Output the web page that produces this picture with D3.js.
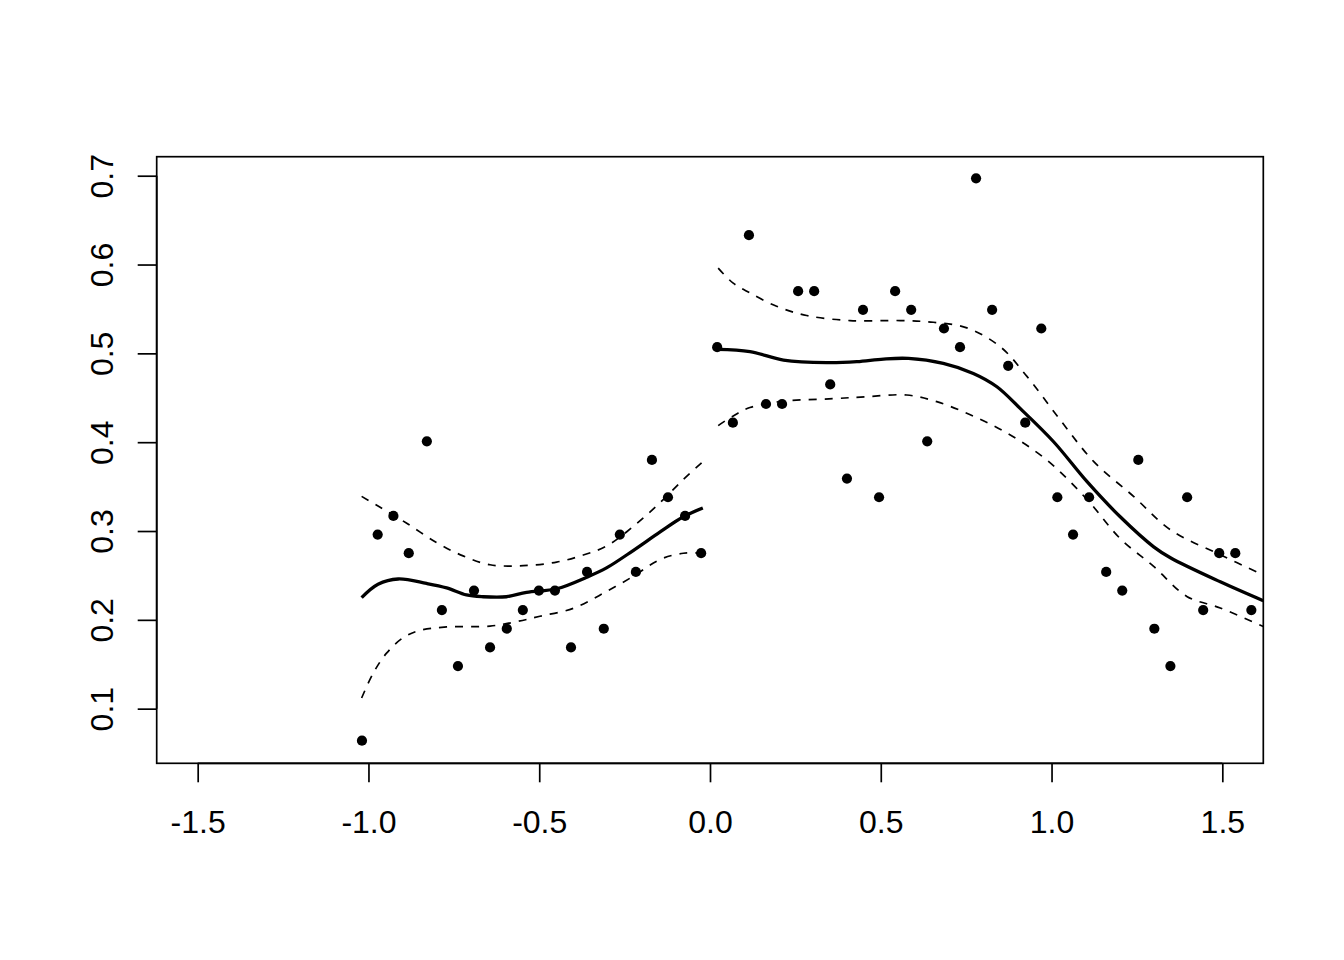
<!DOCTYPE html>
<html>
<head>
<meta charset="utf-8">
<script src="https://cdn.jsdelivr.net/npm/d3@7"></script>
<style>
  html, body { margin: 0; padding: 0; background: #fff; }
  svg { display: block; }
  text { font-family: "Liberation Sans", Arial, sans-serif; font-size: 32px; fill: #000; }
</style>
</head>
<body>
<svg id="chart" width="1344" height="960"></svg>
<script>
// ---------- data ----------
const xTicks = [-1.5, -1.0, -0.5, 0.0, 0.5, 1.0, 1.5];
const yTicks = [0.1, 0.2, 0.3, 0.4, 0.5, 0.6, 0.7];

const pointX = [
  -1.019, -0.973, -0.927, -0.882, -0.829, -0.785, -0.738, -0.691, -0.644, -0.595, -0.548,
  -0.501, -0.454, -0.407, -0.360, -0.311, -0.264, -0.217, -0.170, -0.123, -0.073, -0.026,
  0.021, 0.067, 0.114, 0.164, 0.211, 0.258, 0.305, 0.352, 0.401, 0.448, 0.495,
  0.542, 0.589, 0.636, 0.685, 0.732, 0.779, 0.826, 0.873, 0.923, 0.970, 1.017,
  1.063, 1.110, 1.160, 1.207, 1.254, 1.301, 1.348, 1.397, 1.444, 1.491, 1.538, 1.585
];
const pointY = [
  0.064, 0.296, 0.317, 0.275, 0.401, 0.211, 0.148, 0.233, 0.169, 0.190, 0.211,
  0.233, 0.233, 0.169, 0.254, 0.190, 0.296, 0.254, 0.380, 0.338, 0.317, 0.275,
  0.507, 0.422, 0.633, 0.443, 0.443, 0.570, 0.570, 0.465, 0.359, 0.549, 0.338,
  0.570, 0.549, 0.401, 0.528, 0.507, 0.697, 0.549, 0.486, 0.422, 0.528, 0.338,
  0.296, 0.338, 0.254, 0.233, 0.380, 0.190, 0.148, 0.338, 0.211, 0.275, 0.275, 0.211
];

// fitted curve and confidence bands, left of cutoff
const leftFit = [[-1.020,0.225],[-0.972,0.240],[-0.913,0.246],[-0.830,0.241],[-0.771,0.236],[-0.713,0.228],
  [-0.664,0.226],[-0.596,0.226],[-0.537,0.231],[-0.449,0.235],[-0.361,0.248],[-0.303,0.2585],
  [-0.225,0.278],[-0.146,0.299],[-0.078,0.316],[-0.021,0.326]];
const leftUpper = [[-1.020,0.339],[-0.967,0.327],[-0.889,0.309],[-0.801,0.287],[-0.723,0.272],[-0.644,0.262],
  [-0.547,0.261],[-0.449,0.265],[-0.371,0.273],[-0.303,0.283],[-0.225,0.305],[-0.146,0.332],
  [-0.078,0.358],[-0.024,0.377]];
const leftLower = [[-1.020,0.112],[-0.986,0.140],[-0.947,0.1625],[-0.898,0.180],[-0.850,0.188],[-0.771,0.192],
  [-0.644,0.193],[-0.566,0.198],[-0.498,0.204],[-0.400,0.213],[-0.312,0.230],[-0.225,0.249],
  [-0.146,0.268],[-0.078,0.275],[-0.024,0.275]];

// fitted curve and confidence bands, right of cutoff
const rightFit = [[0.021,0.5045],[0.117,0.502],[0.215,0.4925],[0.342,0.4895],[0.430,0.4906],[0.508,0.4936],
  [0.581,0.4943],[0.683,0.4887],[0.771,0.4774],[0.840,0.4624],[0.908,0.438],[1.006,0.4005],
  [1.104,0.3555],[1.201,0.316],[1.299,0.2822],[1.348,0.2699],[1.494,0.2428],[1.620,0.2215]];
const rightUpper = [[0.024,0.596],[0.068,0.579],[0.117,0.568],[0.195,0.553],[0.283,0.5426],[0.410,0.5369],
  [0.557,0.5369],[0.654,0.535],[0.752,0.5287],[0.850,0.5074],[0.928,0.4741],[1.025,0.4253],
  [1.123,0.3784],[1.240,0.339],[1.348,0.3014],[1.494,0.2733],[1.620,0.2505]];
const rightLower = [[0.024,0.4187],[0.068,0.4296],[0.117,0.439],[0.215,0.4462],[0.361,0.449],[0.459,0.4512],
  [0.576,0.4531],[0.664,0.4456],[0.762,0.4309],[0.869,0.4104],[0.986,0.380],[1.104,0.3355],
  [1.201,0.2915],[1.299,0.2602],[1.396,0.2264],[1.494,0.2134],[1.620,0.1925]];

// ---------- drawing ----------
const svg = d3.select("#chart");
svg.append("rect").attr("width", 1344).attr("height", 960).attr("fill", "#fff");

const pLeft = 156.7, pRight = 1263.3, pTop = 156.7, pBottom = 763.3;
const x = d3.scaleLinear().domain([-1.62, 1.62]).range([pLeft, pRight]);
const y = d3.scaleLinear().domain([0.0385, 0.7214]).range([pBottom, pTop]);

svg.append("clipPath").attr("id", "plotclip")
  .append("rect").attr("x", pLeft).attr("y", pTop)
  .attr("width", pRight - pLeft).attr("height", pBottom - pTop);

const plot = svg.append("g").attr("clip-path", "url(#plotclip)");

const line = d3.line().x(d => x(d[0])).y(d => y(d[1])).curve(d3.curveCatmullRom.alpha(0.5));

const solid = [leftFit, rightFit];
const dashed = [leftUpper, leftLower, rightUpper, rightLower];

plot.selectAll("path.band").data(dashed).enter().append("path")
  .attr("class", "band")
  .attr("d", line)
  .attr("fill", "none").attr("stroke", "#000")
  .attr("stroke-width", 1.7).attr("stroke-dasharray", "8,8");

plot.selectAll("path.fit").data(solid).enter().append("path")
  .attr("class", "fit")
  .attr("d", line)
  .attr("fill", "none").attr("stroke", "#000")
  .attr("stroke-width", 3.3).attr("stroke-linejoin", "round");

plot.selectAll("circle").data(pointX.map((v, i) => [v, pointY[i]])).enter().append("circle")
  .attr("cx", d => x(d[0])).attr("cy", d => y(d[1]))
  .attr("r", 5.1).attr("fill", "#000");

// box
svg.append("rect").attr("x", pLeft).attr("y", pTop)
  .attr("width", pRight - pLeft).attr("height", pBottom - pTop)
  .attr("fill", "none").attr("stroke", "#000").attr("stroke-width", 1.7);

// x axis
const xAxis = d3.axisBottom(x).tickValues(xTicks).tickSize(19).tickPadding(0)
  .tickFormat(d => d3.format(".1f")(d).replace("\u2212", "-"));
const gx = svg.append("g").attr("transform", `translate(0,${pBottom})`).call(xAxis);
gx.select(".domain").remove();
gx.append("line").attr("x1", x(xTicks[0])).attr("x2", x(xTicks[xTicks.length - 1]))
  .attr("y1", 0).attr("y2", 0).attr("stroke", "#000").attr("stroke-width", 1.7);
gx.selectAll(".tick line").attr("stroke", "#000").attr("stroke-width", 1.7);
gx.selectAll(".tick text")
  .attr("y", 69.4).attr("dy", null)
  .attr("font-family", "Liberation Sans, Arial, sans-serif")
  .attr("font-size", 32).attr("fill", "#000");

// y axis
const yAxis = d3.axisLeft(y).tickValues(yTicks).tickSize(19).tickFormat(d3.format(".1f"));
const gy = svg.append("g").attr("transform", `translate(${pLeft},0)`).call(yAxis);
gy.select(".domain").remove();
gy.append("line").attr("y1", y(yTicks[0])).attr("y2", y(yTicks[yTicks.length - 1]))
  .attr("x1", 0).attr("x2", 0).attr("stroke", "#000").attr("stroke-width", 1.7);
gy.selectAll(".tick line").attr("stroke", "#000").attr("stroke-width", 1.7);
gy.selectAll(".tick text")
  .attr("x", null).attr("dy", null)
  .attr("transform", "translate(-43.5,0) rotate(-90)")
  .attr("text-anchor", "middle")
  .attr("font-family", "Liberation Sans, Arial, sans-serif")
  .attr("font-size", 32).attr("fill", "#000");
</script>
</body>
</html>
